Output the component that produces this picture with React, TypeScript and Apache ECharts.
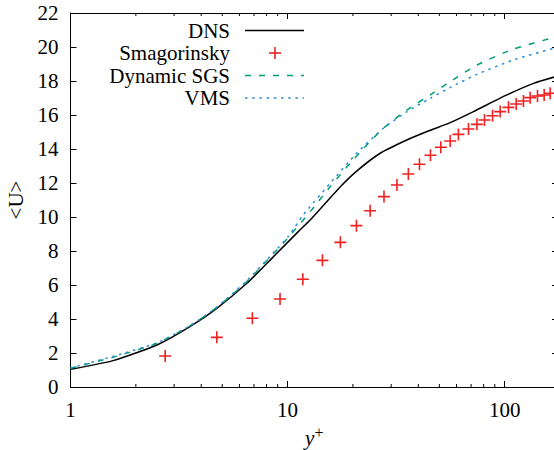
import React, { useEffect, useRef } from "react";
import * as echarts from "echarts";

const FONT = "Liberation Serif";
const FS = 21;

// y+ values and <U> for each series
const dnsX = [1, 1.57, 2.5, 3.55, 4.72, 6.49, 8.61, 11.2, 12.7, 17.5, 20.8, 26.7, 35.4, 45.4, 56.1, 71.8, 102.4, 135.8, 170];
const dnsY = [1.04, 1.55, 2.47, 3.55, 4.63, 6.1, 7.67, 9.14, 9.82, 11.78, 12.7, 13.75, 14.53, 15.1, 15.55, 16.2, 17.18, 17.86, 18.24];

const smagX = [2.73, 4.72, 6.88, 9.23, 11.75, 14.47, 17.5, 20.75, 24.0, 27.8, 31.9, 36.0, 40.5, 45.5, 50.8, 56.1, 61.2, 68.1, 74.5, 80.7, 87.9, 95.3, 104.1, 113, 122, 131, 141.6, 152, 162];
const smagY = [1.82, 2.92, 4.04, 5.18, 6.34, 7.45, 8.51, 9.49, 10.37, 11.2, 11.88, 12.53, 13.1, 13.63, 14.1, 14.47, 14.86, 15.18, 15.45, 15.71, 15.96, 16.2, 16.45, 16.65, 16.82, 17.02, 17.12, 17.18, 17.28];

const dynX = [1, 1.57, 2.5, 3.55, 4.72, 6.49, 8.61, 10, 12.7, 15.7, 19.4, 22.4, 27.6, 35.4, 45.4, 52.2, 74.5, 109.8, 170];
const dynY = [1.1, 1.75, 2.57, 3.6, 4.68, 6.2, 7.85, 8.75, 10.31, 11.78, 13.16, 14.04, 15.22, 16.29, 17.18, 17.7, 18.94, 19.88, 20.57];

const vmsX = [1, 1.57, 2.5, 3.55, 4.72, 6.49, 8.61, 10, 11.8, 15.7, 20.8, 27.6, 35.4, 45.4, 56.1, 74.5, 109.8, 170];
const vmsY = [1.12, 1.8, 2.6, 3.6, 4.7, 6.25, 7.9, 8.8, 10.12, 11.98, 13.75, 15.22, 16.19, 16.98, 17.62, 18.39, 19.24, 19.94];

const minorTicks = [2, 3, 4, 5, 6, 7, 8, 9, 20, 30, 40, 50, 60, 70, 80, 90];
const legendNames = ["DNS", "Smagorinsky", "Dynamic SGS", "VMS"];

const X_MIN = 1;
const X_MAX = 176;
const Y_MIN = 0;
const Y_MAX = 22;

const RED = "#ee2222";
const GREEN = "#009e73";
const BLUE = "#2b8ad0";
const PLUS = "path://M5.2,0H6.8V5.2H12V6.8H6.8V12H5.2V6.8H0V5.2H5.2Z";

const zip = (xs: number[], ys: number[]) => xs.map((x, i) => [x, ys[i]]);

export default function App() {
  const ref = useRef<HTMLDivElement>(null);
  useEffect(() => {
    document.body.style.margin = "0";
    if (!ref.current) return;
    const chart = echarts.init(ref.current, null, { renderer: "svg" });
    const labelFmt = (v: number) => {
      const l = Math.log10(v);
      return Math.abs(l - Math.round(l)) < 1e-6 ? String(Math.round(v)) : "";
    };
    const axisLine = { show: true, onZero: false, lineStyle: { color: "#000", width: 1 } };
    const legendRows = [30.5, 53, 75.5, 98];
    const graphic: any[] = [];
    legendNames.forEach((n, i) => {
      graphic.push({
        type: "text",
        x: 230,
        y: legendRows[i],
        style: { text: n, fill: "#000", fontSize: FS, fontFamily: FONT, align: "right", verticalAlign: "middle" },
      });
    });
    graphic.push({ type: "line", shape: { x1: 245, y1: legendRows[0], x2: 304, y2: legendRows[0] }, style: { stroke: "#000", lineWidth: 1.5 } });
    graphic.push({ type: "line", shape: { x1: 269, y1: legendRows[1], x2: 281, y2: legendRows[1] }, style: { stroke: RED, lineWidth: 1.6 } });
    graphic.push({ type: "line", shape: { x1: 275, y1: legendRows[1] - 6, x2: 275, y2: legendRows[1] + 6 }, style: { stroke: RED, lineWidth: 1.6 } });
    graphic.push({ type: "line", shape: { x1: 245, y1: legendRows[2], x2: 304, y2: legendRows[2] }, style: { stroke: GREEN, lineWidth: 1.5, lineDash: [6, 8] } });
    graphic.push({ type: "line", shape: { x1: 245, y1: legendRows[3], x2: 304, y2: legendRows[3] }, style: { stroke: BLUE, lineWidth: 1.5, lineDash: [2.5, 4.7] } });

    chart.setOption({
      animation: false,
      textStyle: { fontFamily: FONT },
      grid: { left: 70.5, top: 13, width: 487.5, height: 374, containLabel: false, outerBoundsMode: "none" },
      xAxis: [
        {
          type: "log",
          logBase: 10,
          min: X_MIN,
          max: X_MAX,
          position: "bottom",
          axisLine,
          axisTick: { inside: true, length: 6, lineStyle: { color: "#000" } },
          axisLabel: { fontSize: FS, fontFamily: FONT, color: "#000", margin: 12, formatter: labelFmt },
          splitLine: { show: false },
          name: "{i|y}{s|+}",
          nameLocation: "middle",
          nameGap: 34,
          nameTextStyle: {
            color: "#000",
            fontFamily: FONT,
            rich: {
              i: { fontSize: FS, fontFamily: FONT, fontStyle: "italic", color: "#000", lineHeight: 24, verticalAlign: "bottom" },
              s: { fontSize: 16, fontFamily: FONT, color: "#000", lineHeight: 24, verticalAlign: "top", padding: [0, 0, 8, 0] },
            },
          },
        },
        {
          type: "log",
          logBase: 10,
          min: X_MIN,
          max: X_MAX,
          position: "top",
          axisLine,
          axisTick: { inside: true, length: 6, lineStyle: { color: "#000" } },
          axisLabel: { show: false },
          splitLine: { show: false },
        },
      ],
      yAxis: [
        {
          type: "value",
          min: Y_MIN,
          max: Y_MAX,
          interval: 2,
          axisLine,
          axisTick: { inside: true, length: 6, lineStyle: { color: "#000" } },
          axisLabel: { fontSize: FS, fontFamily: FONT, color: "#000", margin: 12 },
          splitLine: { show: false },
          name: "<U>",
          nameLocation: "middle",
          nameRotate: 90,
          nameGap: 42,
          nameTextStyle: { fontSize: FS, fontFamily: FONT, color: "#000" },
        },
        {
          type: "value",
          min: Y_MIN,
          max: Y_MAX,
          interval: 2,
          position: "right",
          axisLine,
          axisTick: { inside: true, length: 6, lineStyle: { color: "#000" } },
          axisLabel: { show: false },
          splitLine: { show: false },
        },
      ],
      graphic,
      series: [
        {
          type: "custom",
          xAxisIndex: 0,
          yAxisIndex: 0,
          silent: true,
          data: minorTicks.map((v) => [v, 0]),
          renderItem: (params: any, api: any) => {
            const v = api.value(0);
            const pb = api.coord([v, Y_MIN]);
            const pt = api.coord([v, Y_MAX]);
            return {
              type: "group",
              children: [
                { type: "line", shape: { x1: pb[0], y1: pb[1], x2: pb[0], y2: pb[1] - 3 }, style: { stroke: "#000", lineWidth: 1 } },
                { type: "line", shape: { x1: pt[0], y1: pt[1], x2: pt[0], y2: pt[1] + 3 }, style: { stroke: "#000", lineWidth: 1 } },
              ],
            };
          },
        },
        {
          name: "DNS",
          type: "line",
          data: zip(dnsX, dnsY),
          showSymbol: false,
          smooth: 0.2,
          lineStyle: { color: "#000", width: 1.5 },
        },
        {
          name: "Smagorinsky",
          type: "scatter",
          data: zip(smagX, smagY),
          symbol: PLUS,
          symbolSize: 12,
          itemStyle: { color: RED, opacity: 1 },
        },
        {
          name: "Dynamic SGS",
          type: "line",
          data: zip(dynX, dynY),
          showSymbol: false,
          smooth: 0.2,
          lineStyle: { color: GREEN, width: 1.5, type: [6, 8] },
        },
        {
          name: "VMS",
          type: "line",
          data: zip(vmsX, vmsY),
          showSymbol: false,
          smooth: 0.2,
          lineStyle: { color: BLUE, width: 1.5, type: [2.5, 4.7] },
        },
      ],
    });
    return () => chart.dispose();
  }, []);
  return <div ref={ref} style={{ width: 554, height: 450 }} />;
}
